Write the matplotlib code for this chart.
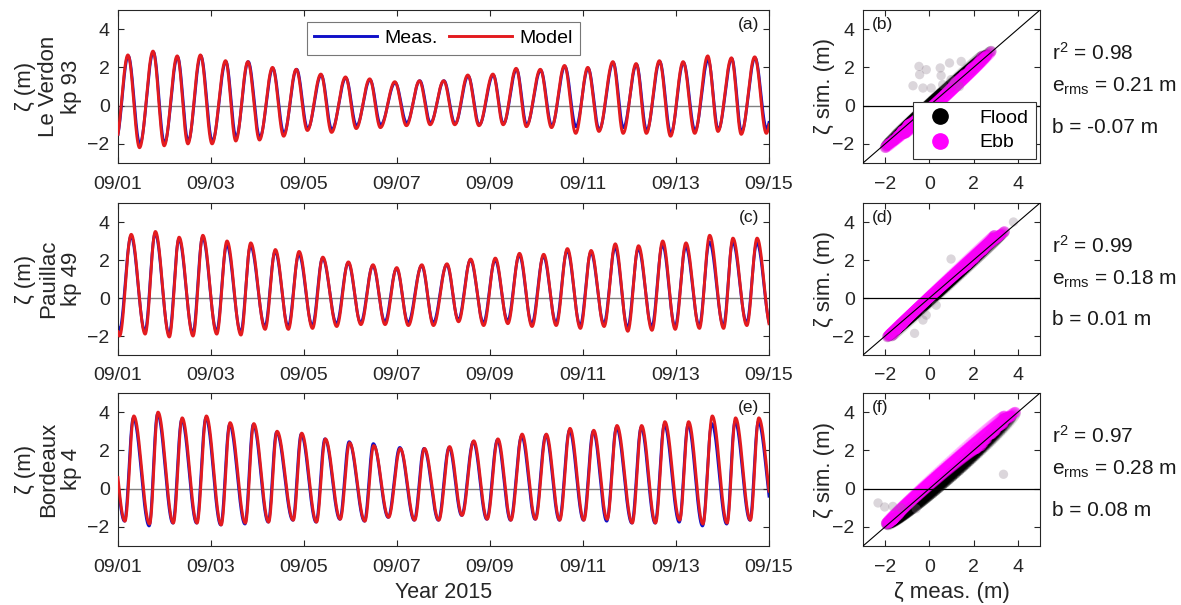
import numpy as np
import matplotlib
matplotlib.use("Agg")
import matplotlib.pyplot as plt
from matplotlib.lines import Line2D

plt.rcParams['font.family'] = ['Liberation Sans', 'DejaVu Sans']
plt.rcParams['mathtext.default'] = 'regular'

# ---------------- data ----------------
# time axis: days since 2015-09-01 00:00
tick_days = [0, 2, 4, 6, 8, 10, 12, 14]
tick_labels = ['09/01', '09/03', '09/05', '09/07', '09/09', '09/11', '09/13', '09/15']

station_names = ['Le Verdon\nkp 93', 'Pauillac\nkp 49', 'Bordeaux\nkp 4']

# Le Verdon: high / low water times and levels (m)
verdon_hw_t = [0.22, 0.76, 1.28, 1.78, 2.32, 2.80, 3.33, 3.84, 4.37, 4.90, 5.42, 5.96, 6.49, 7.01,
               7.53, 8.07, 8.57, 9.09, 9.61, 10.11, 10.65, 11.15, 11.65, 12.16, 12.69, 13.20, 13.70, 14.21]
verdon_hw_meas = [2.6, 2.8, 2.55, 2.6, 2.3, 2.3, 1.95, 1.9, 1.6, 1.45, 1.35, 1.2, 1.3, 1.3,
                  1.55, 1.6, 1.9, 1.85, 2.05, 1.95, 2.25, 2.15, 2.3, 2.25, 2.4, 2.45, 2.5, 2.4]
verdon_hw_model = [2.65, 2.85, 2.6, 2.65, 2.35, 2.3, 2.0, 1.9, 1.65, 1.5, 1.4, 1.25, 1.3, 1.3,
                   1.6, 1.65, 1.95, 1.9, 2.1, 2.0, 2.3, 2.2, 2.35, 2.3, 2.6, 2.5, 2.55, 2.45]
verdon_lw_t = [-0.04, 0.47, 1.00, 1.51, 2.03, 2.54, 3.05, 3.57, 4.08, 4.60, 5.13, 5.65, 6.21, 6.72,
               7.25, 7.77, 8.29, 8.79, 9.33, 9.85, 10.35, 10.87, 11.37, 11.89, 12.41, 12.91, 13.41, 13.95]
verdon_lw_meas = [-1.75, -2.0, -1.95, -1.85, -1.85, -1.65, -1.65, -1.45, -1.2, -1.25, -1.05, -1.0, -0.9, -0.9,
                  -0.95, -1.0, -0.95, -1.0, -1.05, -1.1, -1.25, -1.15, -1.3, -1.45, -1.3, -1.25, -1.35, -1.2]
verdon_lw_model = [-1.85, -2.2, -2.1, -2.0, -2.0, -1.85, -1.8, -1.6, -1.3, -1.4, -1.2, -1.15, -1.05, -1.0,
                   -1.0, -1.05, -1.0, -1.1, -1.15, -1.45, -1.35, -1.45, -1.45, -1.6, -1.45, -1.35, -1.5, -1.45]

# Pauillac
pauillac_hw_t = [-0.22, 0.28, 0.80, 1.31, 1.82, 2.34, 2.85, 3.38, 3.89, 4.40, 4.95, 5.48, 5.99, 6.53,
                 7.07, 7.58, 8.11, 8.63, 9.15, 9.66, 10.17, 10.69, 11.19, 11.71, 12.21, 12.72, 13.22, 13.74]
pauillac_hw_meas = [2.9, 3.25, 3.4, 3.1, 3.2, 2.8, 2.75, 2.45, 2.3, 2.1, 1.85, 1.7, 1.55, 1.7,
                    1.75, 2.0, 2.0, 2.25, 2.2, 2.5, 2.4, 2.65, 2.6, 2.8, 2.7, 2.95, 2.95, 2.9]
pauillac_hw_model = [3.0, 3.35, 3.5, 3.2, 3.3, 3.0, 2.9, 2.55, 2.45, 2.15, 1.9, 1.75, 1.6, 1.75,
                     1.8, 2.05, 2.1, 2.35, 2.3, 2.6, 2.5, 2.85, 2.75, 3.0, 2.9, 3.3, 3.15, 3.15]
pauillac_lw_t = [0.03, 0.58, 1.10, 1.61, 2.12, 2.64, 3.16, 3.66, 4.18, 4.70, 5.22, 5.74, 6.24, 6.78,
                 7.32, 7.86, 8.38, 8.90, 9.42, 9.94, 10.45, 10.96, 11.48, 11.98, 12.50, 13.02, 13.52, 14.04]
pauillac_lw_meas = [-1.7, -1.75, -1.9, -1.85, -1.75, -1.8, -1.5, -1.5, -1.45, -1.35, -1.3, -1.25, -1.3, -1.3,
                    -1.15, -1.3, -1.2, -1.35, -1.3, -1.45, -1.35, -1.55, -1.5, -1.5, -1.45, -1.45, -1.3, -1.45]
pauillac_lw_model = [-2.0, -1.9, -2.05, -2.0, -1.9, -1.95, -1.65, -1.65, -1.6, -1.5, -1.4, -1.4, -1.45, -1.45,
                     -1.25, -1.45, -1.35, -1.5, -1.45, -1.6, -1.5, -1.75, -1.7, -1.65, -1.6, -1.6, -1.45, -1.6]

# Bordeaux
bordeaux_hw_t = [-0.19, 0.33, 0.85, 1.37, 1.89, 2.40, 2.91, 3.41, 3.94, 4.45, 4.97, 5.49, 6.06, 6.58,
                 7.12, 7.64, 8.16, 8.68, 9.20, 9.71, 10.22, 10.72, 11.25, 11.75, 12.26, 12.77, 13.27, 13.77]
bordeaux_hw_meas = [3.5, 3.7, 3.9, 3.6, 3.7, 3.35, 3.35, 2.95, 2.85, 2.6, 2.45, 2.35, 2.15, 2.1,
                    2.15, 2.45, 2.55, 2.75, 2.8, 3.05, 3.0, 3.2, 3.2, 3.35, 3.35, 3.4, 3.5, 3.5]
bordeaux_hw_model = [3.6, 3.8, 4.0, 3.7, 3.8, 3.45, 3.4, 3.0, 2.9, 2.6, 2.4, 2.25, 2.1, 2.1,
                     2.2, 2.5, 2.6, 2.85, 2.85, 3.15, 3.05, 3.3, 3.3, 3.5, 3.5, 3.8, 3.7, 3.7]
bordeaux_lw_t = [0.14, 0.67, 1.18, 1.69, 2.21, 2.73, 3.23, 3.76, 4.26, 4.77, 5.30, 5.81, 6.37, 6.89,
                 7.39, 7.93, 8.44, 8.97, 9.49, 10.01, 10.51, 11.05, 11.55, 12.07, 12.57, 13.09, 13.59, 14.11]
bordeaux_lw_meas = [-1.7, -1.95, -1.8, -1.8, -1.9, -1.85, -1.75, -1.65, -1.75, -1.6, -1.7, -1.5, -1.65, -1.65,
                    -1.4, -1.6, -1.65, -1.6, -1.65, -1.65, -1.7, -1.8, -1.8, -1.75, -1.95, -1.85, -1.65, -1.6]
bordeaux_lw_model = [-1.7, -1.85, -1.8, -1.8, -1.9, -1.8, -1.75, -1.65, -1.75, -1.6, -1.7, -1.5, -1.65, -1.65,
                     -1.4, -1.6, -1.65, -1.6, -1.65, -1.65, -1.6, -1.8, -1.8, -1.65, -1.85, -1.8, -1.65, -1.6]

# model timing offset relative to measurements (days)
model_lag = [-0.007, 0.004, 0.01]

# scattered outliers visible in the scatter panels (meas, sim)
outliers_b_x = [-0.47, -0.44, -0.14, 0.49, 0.53, 0.91, 1.44, 0.98, -0.29, 0.08, -0.74, 1.36, 0.60]
outliers_b_y = [2.05, 1.62, 1.88, 1.97, 1.57, 2.23, 2.31, 1.36, 0.92, 0.92, 1.04, 1.00, 1.10]
outliers_d_x = [0.98, 0.31, -0.14, -0.67, -0.29, 3.8]
outliers_d_y = [2.05, -0.38, -0.90, -1.86, -1.16, 4.0]
outliers_f_x = [3.35, -2.32, -2.02, -1.65, -1.27, -0.60]
outliers_f_y = [0.75, -0.75, -0.96, -0.93, -1.00, -1.05]

stats_r2 = ['0.98', '0.99', '0.97']
stats_erms = ['0.21', '0.18', '0.28']
stats_bias = ['-0.07', '0.01', '0.08']
ts_labels = ['(a)', '(c)', '(e)']
sc_labels = ['(b)', '(d)', '(f)']

# ---------------- helpers ----------------
def tide_curve(t, hw_t, hw_v, lw_t, lw_v, lag=0.0):
    et = np.concatenate([hw_t, lw_t]) + lag
    ev = np.concatenate([hw_v, lw_v])
    order = np.argsort(et)
    et, ev = et[order], ev[order]
    i = np.clip(np.searchsorted(et, t) - 1, 0, len(et) - 2)
    ta, tb = et[i], et[i + 1]
    va, vb = ev[i], ev[i + 1]
    frac = np.clip((t - ta) / (tb - ta), 0, 1)
    return vb + (va - vb) * (1 + np.cos(np.pi * frac)) / 2

t = np.linspace(0, 14, 4033)
stations = [
    (verdon_hw_t, verdon_hw_meas, verdon_hw_model, verdon_lw_t, verdon_lw_meas, verdon_lw_model),
    (pauillac_hw_t, pauillac_hw_meas, pauillac_hw_model, pauillac_lw_t, pauillac_lw_meas, pauillac_lw_model),
    (bordeaux_hw_t, bordeaux_hw_meas, bordeaux_hw_model, bordeaux_lw_t, bordeaux_lw_meas, bordeaux_lw_model),
]
outliers = [(outliers_b_x, outliers_b_y), (outliers_d_x, outliers_d_y), (outliers_f_x, outliers_f_y)]

# ---------------- figure ----------------
W, H = 1181, 605
fig = plt.figure(figsize=(W / 100, H / 100), dpi=100)

def px_axes(left, top, right, bottom):
    return fig.add_axes([left / W, 1 - bottom / H, (right - left) / W, (bottom - top) / H])

tops = [10, 203, 393]
bots = [163, 355, 546]
FS = 14
LFS = 16
blue = '#1010c8'
red = '#e31b1f'
magenta = '#ff00ff'

def style(ax):
    ax.tick_params(direction='in', top=True, right=True, length=4, width=0.8,
                   labelsize=FS, colors='#262626')
    ax.tick_params(axis='x', pad=9)
    ax.tick_params(axis='y', pad=6)
    for s in ax.spines.values():
        s.set_color('#262626')
        s.set_linewidth(0.8)

for k, st in enumerate(stations):
    hw_t, hw_m, hw_s, lw_t, lw_m, lw_s = [np.asarray(a, float) for a in st]
    meas = tide_curve(t, hw_t, hw_m, lw_t, lw_m)
    model = tide_curve(t, hw_t, hw_s, lw_t, lw_s, model_lag[k])

    ax = px_axes(118, tops[k], 769, bots[k])
    ax.axhline(0, color='#808080', lw=1.0, zorder=1)
    ax.plot(t, meas, color=blue, lw=2.1, label='Meas.', zorder=2)
    ax.plot(t, model, color=red, lw=2.1, label='Model', zorder=3)
    ax.set_xlim(0, 14)
    ax.set_ylim(-3, 5)
    ax.set_yticks([-2, 0, 2, 4])
    ax.set_xticks(tick_days)
    ax.set_xticklabels(tick_labels)
    style(ax)
    ax.set_ylabel('\u03b6 (m)\n' + station_names[k], fontsize=LFS, linespacing=1.1, color='#262626')
    ax.yaxis.set_label_coords(-0.056, 0.5)
    ax.text(0.985, 0.955, ts_labels[k], transform=ax.transAxes, ha='right', va='top',
            fontsize=12.5, color='#1a1a1a')
    if k == 0:
        leg = ax.legend(loc='upper center', ncol=2, fontsize=FS, handlelength=3.2,
                        columnspacing=0.6, fancybox=False, edgecolor='#555555',
                        borderaxespad=0.6, handletextpad=0.4)
        leg.get_frame().set_linewidth(0.8)
    if k == 2:
        ax.set_xlabel('Year 2015', fontsize=15.5, color='#262626', labelpad=5)

    # scatter panel
    axs = px_axes(863, tops[k], 1040, bots[k])
    flood = np.gradient(meas) > 0
    axs.scatter(meas[flood], model[flood], s=60, color='black', alpha=0.05,
                edgecolors='none', zorder=2, rasterized=True)
    axs.scatter(meas[~flood], model[~flood], s=60, color=magenta, alpha=0.12,
                edgecolors='none', zorder=3, rasterized=True)
    ox, oy = outliers[k]
    axs.scatter(ox, oy, s=45, color='#8a7a8a', alpha=0.3, edgecolors='none', zorder=4)
    axs.plot([-3, 5], [-3, 5], color='black', lw=0.8, zorder=5)
    axs.axhline(0, color='black', lw=0.9, zorder=5)
    axs.set_xlim(-3, 5)
    axs.set_ylim(-3, 5)
    axs.set_xticks([-2, 0, 2, 4])
    axs.set_yticks([-2, 0, 2, 4])
    style(axs)
    axs.set_ylabel('\u03b6 sim. (m)', fontsize=LFS, color='#262626')
    axs.yaxis.set_label_coords(-0.16, 0.5)
    axs.text(0.05, 0.955, sc_labels[k], transform=axs.transAxes, ha='left', va='top',
             fontsize=12.5, color='#1a1a1a')
    axs.text(1.07, 0.72, 'r$^{2}$ = ' + stats_r2[k], transform=axs.transAxes,
             ha='left', va='center', fontsize=15, color='#1a1a1a')
    axs.text(1.07, 0.50, 'e$_{rms}$ = ' + stats_erms[k] + ' m', transform=axs.transAxes,
             ha='left', va='center', fontsize=15, color='#1a1a1a')
    axs.text(1.07, 0.235, 'b = ' + stats_bias[k] + ' m', transform=axs.transAxes,
             ha='left', va='center', fontsize=15, color='#1a1a1a')
    if k == 0:
        handles = [Line2D([], [], ls='none', marker='o', ms=11, color='black'),
                   Line2D([], [], ls='none', marker='o', ms=11, color=magenta)]
        leg2 = axs.legend(handles, ['Flood', 'Ebb'], loc='lower right', fontsize=FS,
                          fancybox=False, edgecolor='#333333', borderaxespad=0.2,
                          handletextpad=1.0, labelspacing=0.35, facecolor='white',
                          framealpha=1)
        leg2.get_frame().set_linewidth(0.8)
        leg2.set_zorder(10)
    if k == 2:
        axs.set_xlabel('\u03b6 meas. (m)', fontsize=LFS, color='#262626', labelpad=5)

fig.savefig('out.png', dpi=100)
